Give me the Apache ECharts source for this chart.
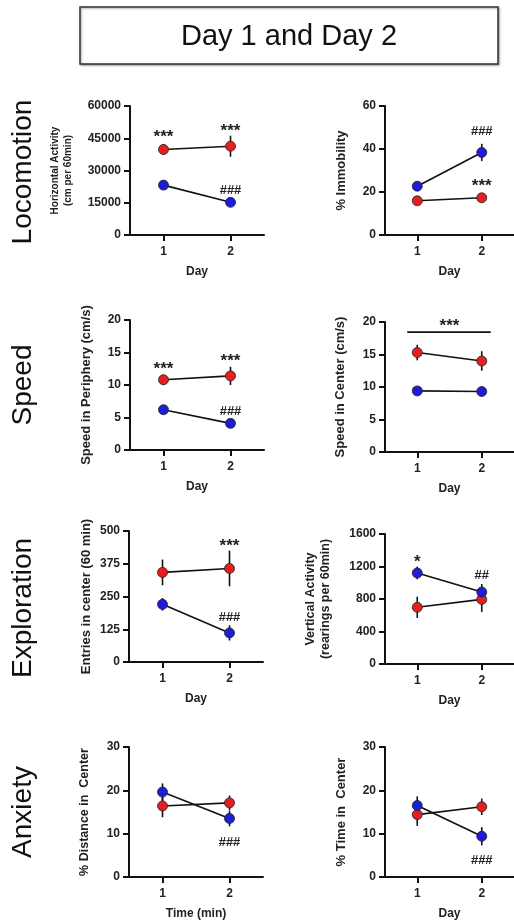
<!DOCTYPE html>
<html>
<head>
<meta charset="utf-8">
<script src="https://cdn.jsdelivr.net/npm/echarts@6/dist/echarts.min.js"></script>
<style>
html,body{margin:0;padding:0;background:#fff;}
#c{width:514px;height:924px;}
</style>
</head>
<body>
<div id="c"></div>
<script>
// ---------- data ----------
const categories = ['1', '2'];

// Locomotion: Horizontal Activity
const horizRed = [39800, 41300];
const horizRedErr = [2500, 4900];
const horizBlue = [23200, 15200];
const horizBlueErr = [600, 600];

// Locomotion: % Immobility
const immobRed = [15.9, 17.3];
const immobRedErr = [0.8, 0.8];
const immobBlue = [22.7, 38.4];
const immobBlueErr = [1.0, 4.0];

// Speed: Periphery
const periRed = [10.8, 11.4];
const periRedErr = [0.77, 1.4];
const periBlue = [6.2, 4.1];
const periBlueErr = [0.2, 0.2];

// Speed: Center
const centRed = [15.3, 14.0];
const centRedErr = [1.2, 1.5];
const centBlue = [9.4, 9.3];
const centBlueErr = [0.2, 0.2];

// Exploration: Entries in center
const entrRed = [342, 357];
const entrRedErr = [49, 68];
const entrBlue = [220, 111];
const entrBlueErr = [24, 29];

// Exploration: Vertical Activity
const vertRed = [698, 795];
const vertRedErr = [131, 154];
const vertBlue = [1120, 885];
const vertBlueErr = [78, 100];

// Anxiety: % Distance in Center
const distRed = [16.4, 17.1];
const distRedErr = [2.6, 1.7];
const distBlue = [19.6, 13.5];
const distBlueErr = [2.0, 1.8];

// Anxiety: % Time in Center
const timeRed = [14.4, 16.2];
const timeRedErr = [2.6, 1.9];
const timeBlue = [16.5, 9.4];
const timeBlueErr = [2.1, 2.1];

// axis ranges
const yMax = [60000, 60, 20, 20, 500, 1600, 30, 30];
const yInterval = [15000, 20, 5, 5, 125, 400, 10, 10];

// significance annotations: [category index, y value, text]
const annot1 = [[0, 47300, '***'], [1, 50300, '***'], [1, 20900, '###']];
const annot2 = [[1, 48.4, '###'], [1, 24.7, '***']];
const annot3 = [[0, 13.1, '***'], [1, 14.2, '***'], [1, 6.0, '###']];
const annot4 = [];
const annot5 = [[1, 455, '***'], [1, 172, '###']];
const annot6 = [[0, 1300, '*'], [1, 1095, '##']];
const annot7 = [[1, 7.9, '###']];
const annot8 = [[1, 3.9, '###']];
// significance bar over both days (panel 4): [y value, text]
const sigBar4 = [18.45, '***'];

const yNames = [
  'Horizontal Activity\n(cm per 60min)',
  '% Immobility',
  'Speed in Periphery (cm/s)',
  'Speed in Center (cm/s)',
  'Entries in center (60 min)',
  'Vertical Activity\n(rearings per 60min)',
  '% Distance in  Center',
  '% Time in  Center'
];
const xNames = ['Day', 'Day', 'Day', 'Day', 'Day', 'Day', 'Time (min)', 'Day'];
const rowLabels = ['Locomotion', 'Speed', 'Exploration', 'Anxiety'];
const titleText = 'Day 1 and Day 2';

// ---------- layout (positions only) ----------
const layout = [
  {left: 130, top: 106, height: 129, nameGap: 55, nameSize: 10, lh: 13},
  {left: 385, top: 106, height: 129, nameGap: 36, nameSize: 13, lh: 15},
  {left: 130, top: 320, height: 130, nameGap: 36, nameSize: 13, lh: 15},
  {left: 385, top: 322, height: 130, nameGap: 37.5, nameSize: 13, lh: 15},
  {left: 129, top: 531, height: 131, nameGap: 35, nameSize: 13, lh: 15},
  {left: 385, top: 534, height: 130, nameGap: 52, nameSize: 12.5, lh: 15},
  {left: 129, top: 747, height: 130, nameGap: 36.5, nameSize: 12.5, lh: 15},
  {left: 385, top: 747, height: 130, nameGap: 36, nameSize: 13, lh: 15}
];
const GRID_W = 134;
const RED = '#e3201f';
const BLUE = '#1d1dd8';
const FONT = '"Liberation Sans", Arial, sans-serif';

const panels = [
  [horizRed, horizRedErr, horizBlue, horizBlueErr, annot1],
  [immobRed, immobRedErr, immobBlue, immobBlueErr, annot2],
  [periRed, periRedErr, periBlue, periBlueErr, annot3],
  [centRed, centRedErr, centBlue, centBlueErr, annot4],
  [entrRed, entrRedErr, entrBlue, entrBlueErr, annot5],
  [vertRed, vertRedErr, vertBlue, vertBlueErr, annot6],
  [distRed, distRedErr, distBlue, distBlueErr, annot7],
  [timeRed, timeRedErr, timeBlue, timeBlueErr, annot8]
];

const grid = [], xAxis = [], yAxis = [], series = [];

function errRender(params, api) {
  const x = api.value(0), y = api.value(1), e = api.value(2);
  const a = api.coord([x, y + e]);
  const b = api.coord([x, y - e]);
  return {type: 'line', shape: {x1: a[0], y1: a[1], x2: b[0], y2: b[1]},
          style: {stroke: '#111', lineWidth: 1.6}};
}

function annotRender(list) {
  return function (params, api) {
    const item = list[params.dataIndex];
    const p = api.coord([api.value(0), api.value(1)]);
    const isStar = item[2].indexOf('*') >= 0;
    return {
      type: 'text',
      x: p[0], y: p[1] + (isStar ? 4 : 0),
      style: {
        text: item[2], fill: '#222',
        font: 'bold ' + (isStar ? 17 : 13) + 'px ' + FONT,
        align: 'center', verticalAlign: 'middle'
      }
    };
  };
}

panels.forEach(function (pn, i) {
  const L = layout[i];
  grid.push({left: L.left, top: L.top, width: GRID_W, height: L.height});
  xAxis.push({
    type: 'category', gridIndex: i, data: categories, boundaryGap: true,
    name: xNames[i], nameLocation: 'middle', nameGap: 31,
    nameTextStyle: {fontFamily: FONT, fontWeight: 'bold', fontSize: 12, color: '#222'},
    axisLine: {lineStyle: {color: '#111', width: 2}},
    axisTick: {show: true, alignWithLabel: true, length: 6, lineStyle: {color: '#111', width: 2}},
    axisLabel: {fontFamily: FONT, fontWeight: 'bold', fontSize: 12, color: '#222', margin: 11},
    splitLine: {show: false}
  });
  yAxis.push({
    type: 'value', gridIndex: i, min: 0, max: yMax[i], interval: yInterval[i],
    name: yNames[i], nameLocation: 'middle', nameGap: L.nameGap, nameRotate: 90,
    nameTextStyle: {fontFamily: FONT, fontWeight: 'bold', fontSize: L.nameSize, color: '#222', lineHeight: L.lh},
    axisLine: {show: true, lineStyle: {color: '#111', width: 2}},
    axisTick: {show: true, length: 6, lineStyle: {color: '#111', width: 2}},
    axisLabel: {fontFamily: FONT, fontWeight: 'bold', fontSize: 12, color: '#222', margin: 9,
                formatter: function (v) { return String(v); }},
    splitLine: {show: false}
  });
  const red = pn[0], redErr = pn[1], blue = pn[2], blueErr = pn[3], ann = pn[4];
  series.push({
    type: 'custom', xAxisIndex: i, yAxisIndex: i, renderItem: errRender, z: 1,
    encode: {x: 0, y: 1},
    data: red.map(function (v, k) { return [k, v, redErr[k]]; })
  });
  series.push({
    type: 'custom', xAxisIndex: i, yAxisIndex: i, renderItem: errRender, z: 1,
    encode: {x: 0, y: 1},
    data: blue.map(function (v, k) { return [k, v, blueErr[k]]; })
  });
  [[red, RED], [blue, BLUE]].forEach(function (s) {
    series.push({
      type: 'line', xAxisIndex: i, yAxisIndex: i, data: s[0], z: 3,
      symbol: 'circle', symbolSize: 10, showSymbol: true,
      lineStyle: {color: '#111', width: 1.6},
      itemStyle: {color: s[1], borderColor: '#222', borderWidth: 0.8},
      emphasis: {disabled: true}, animation: false
    });
  });
  if (ann.length) {
    series.push({
      type: 'custom', xAxisIndex: i, yAxisIndex: i, z: 5,
      renderItem: annotRender(ann), encode: {x: 0, y: 1},
      data: ann.map(function (a) { return [a[0], a[1]]; })
    });
  }
});

// significance bar spanning both days in panel 4
series.push({
  type: 'custom', xAxisIndex: 3, yAxisIndex: 3, z: 5, encode: {x: 0, y: 1},
  data: [[0, sigBar4[0]]],
  renderItem: function (params, api) {
    const a = api.coord([0, api.value(1)]);
    const b = api.coord([1, api.value(1)]);
    return {type: 'group', children: [
      {type: 'line', shape: {x1: a[0] - 10, y1: a[1], x2: b[0] + 9, y2: b[1]},
       style: {stroke: '#111', lineWidth: 1.8}},
      {type: 'text', x: (a[0] + b[0]) / 2, y: a[1] - 6,
       style: {text: sigBar4[1], fill: '#222', font: 'bold 17px ' + FONT,
               align: 'center', verticalAlign: 'middle'}}
    ]};
  }
});

const rowY = [172, 385, 608, 812];
const graphic = [
  {type: 'rect', shape: {x: 80, y: 7, width: 418, height: 57},
   style: {fill: '#fff', stroke: '#333', lineWidth: 1.5,
           shadowBlur: 2, shadowOffsetX: 1, shadowOffsetY: 1, shadowColor: 'rgba(0,0,0,0.35)'}},
  {type: 'text', x: 289, y: 37,
   style: {text: titleText, font: '29px ' + FONT, fill: '#111', align: 'center', verticalAlign: 'middle'}}
];
rowLabels.forEach(function (t, k) {
  graphic.push({type: 'text', x: 23, y: rowY[k], rotation: Math.PI / 2,
    style: {text: t, font: '28px ' + FONT, fill: '#111', align: 'center', verticalAlign: 'middle'}});
});

const chart = echarts.init(document.getElementById('c'), null, {renderer: 'canvas'});
chart.setOption({
  animation: false,
  backgroundColor: '#fff',
  grid: grid, xAxis: xAxis, yAxis: yAxis, series: series, graphic: graphic
});
</script>
</body>
</html>
